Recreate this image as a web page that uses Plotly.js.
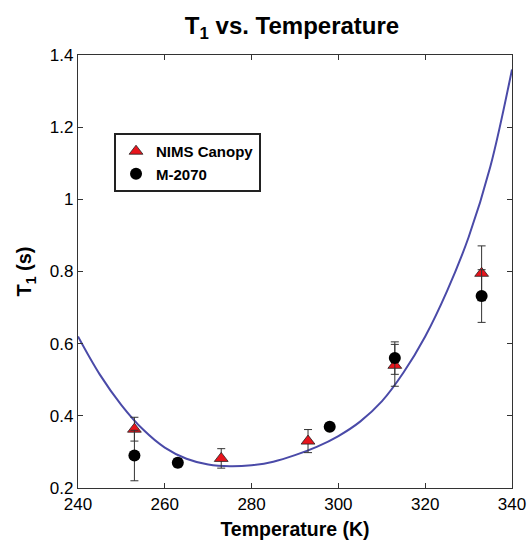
<!DOCTYPE html>
<html>
<head>
<meta charset="utf-8">
<script src="https://cdn.plot.ly/plotly-3.0.1.min.js"></script>
<style>html,body{margin:0;padding:0;background:#fff;}#chart{width:529px;height:542px;}</style>
</head>
<body>
<div id="chart"></div>
<script>
// Fit curve
const curveT = [240,245,250,255,260,265,270,275,280,285,290,295,300,305,310,315,320,325,330,335,340];
const curveV = [0.62,0.515,0.43,0.362,0.312,0.281,0.265,0.26,0.263,0.273,0.291,0.314,0.344,0.384,0.44,0.52,0.62,0.745,0.895,1.09,1.36];

// NIMS Canopy (red triangles)
const nimsT = [253,273,293,313,333];
const nimsV = [0.363,0.282,0.330,0.540,0.795];
const nimsErr = [0.033,0.027,0.032,0.058,0.076];

// M-2070 (black circles)
const mT = [253,263,298,313,333];
const mV = [0.290,0.270,0.370,0.560,0.732];
const mErr = [0.070,0.012,0.0,0.045,0.073];

const font = "Arial, 'Liberation Sans', Helvetica, sans-serif";

const traces = [
  {x: curveT, y: curveV, type: 'scatter', mode: 'lines', showlegend: false,
   line: {color: '#4a4aa8', width: 2, shape: 'spline', smoothing: 1}, hoverinfo: 'skip'},
  {x: nimsT, y: nimsV, type: 'scatter', mode: 'markers', name: '<b>NIMS Canopy</b>',
   marker: {symbol: 'triangle-up', size: 12, color: '#e8141c', line: {color: '#222', width: 0.8}},
   error_y: {type: 'data', array: nimsErr, visible: true, color: '#333', thickness: 1, width: 4}},
  {x: mT, y: mV, type: 'scatter', mode: 'markers', name: '<b>M-2070</b>',
   marker: {symbol: 'circle', size: 12, color: '#000'},
   error_y: {type: 'data', array: mErr, visible: true, color: '#333', thickness: 1, width: 4}}
];

const layout = {
  width: 529, height: 542,
  margin: {l: 78, r: 17, t: 55, b: 54},
  paper_bgcolor: '#fff', plot_bgcolor: '#fff',
  font: {family: font, color: '#000'},
  title: {text: '<b>T<sub>1</sub> vs. Temperature</b>', font: {size: 24, family: font, color: '#000'},
          x: 0.552, xanchor: 'center', y: 0.952, yanchor: 'middle'},
  xaxis: {range: [240, 340], dtick: 20, tick0: 240, ticks: 'inside', ticklen: 5, tickcolor: '#333',
          mirror: 'allticks', showline: true, linecolor: '#333', linewidth: 1.2, showgrid: false, zeroline: false,
          tickfont: {size: 17, family: font, color: '#000'},
          title: {text: '<b>Temperature (K)</b>', font: {size: 19.5, family: font, color: '#000'}, standoff: 9}},
  yaxis: {range: [0.2, 1.4], dtick: 0.2, tick0: 0.2, ticks: 'inside', ticklen: 5, tickcolor: '#333',
          mirror: 'allticks', showline: true, linecolor: '#333', linewidth: 1.2, showgrid: false, zeroline: false,
          tickfont: {size: 17, family: font, color: '#000'},
          title: {text: '<b>T<sub>1</sub> (s)</b>', font: {size: 20, family: font, color: '#000'}, standoff: 12}},
  legend: {x: 0.083, y: 0.82, xanchor: 'left', yanchor: 'top', bgcolor: '#fff',
           bordercolor: '#222', borderwidth: 2, font: {size: 15, family: font, color: '#000'},
           itemwidth: 30, tracegroupgap: 4},
  showlegend: true
};

Plotly.newPlot('chart', traces, layout, {displayModeBar: false, staticPlot: true});
</script>
</body>
</html>
